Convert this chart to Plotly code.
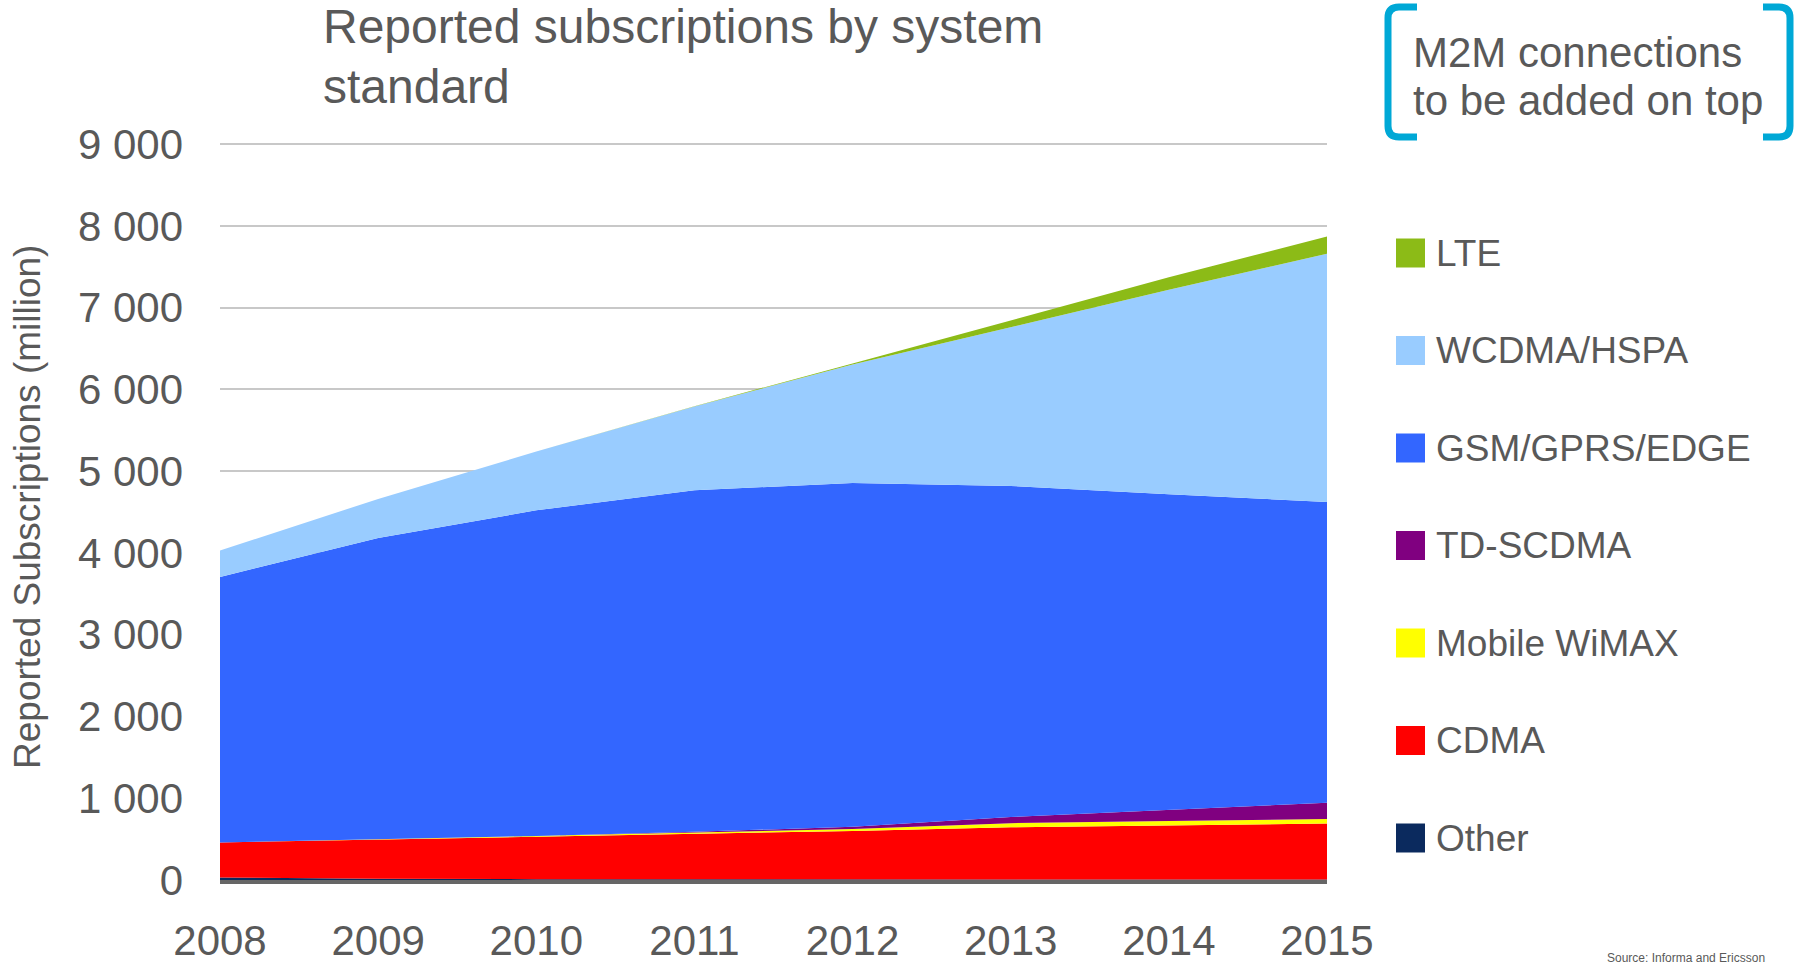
import plotly.graph_objects as go

years = [2008, 2009, 2010, 2011, 2012, 2013, 2014, 2015]

# Subscriptions in millions, stacked bottom -> top
other = [30, 15, 10, 8, 6, 5, 5, 5]
cdma = [430, 480, 520, 557, 594, 640, 665, 685]
wimax = [0, 2, 5, 15, 25, 50, 52, 55]
td_scdma = [0, 0, 3, 10, 25, 75, 133, 200]
gsm = [3247, 3687, 3983, 4176, 4206, 4049, 3863, 3679]
wcdma = [323, 476, 719, 1026, 1447, 1946, 2502, 3035]
lte = [0, 0, 0, 3, 15, 75, 150, 212]

series_names = ["Other", "CDMA", "Mobile WiMAX", "TD-SCDMA", "GSM/GPRS/EDGE", "WCDMA/HSPA", "LTE"]
series_values = [other, cdma, wimax, td_scdma, gsm, wcdma, lte]
series_colors = ["#0B2A5E", "#FF0000", "#FFFF00", "#800080", "#3366FF", "#99CCFF", "#8CBB17"]

y_tickvals = [0, 1000, 2000, 3000, 4000, 5000, 6000, 7000, 8000, 9000]
y_ticktext = ["0", "1 000", "2 000", "3 000", "4 000", "5 000", "6 000", "7 000", "8 000", "9 000"]

title_lines = ["Reported subscriptions by system", "standard"]
note_lines = ["M2M connections", "to be added on top"]
y_title = "Reported Subscriptions (million)"
source_text = "Source: Informa and Ericsson"

W, H = 1801, 968
ML, MR, MT, MB = 220, 474, 140, 88
PW = W - ML - MR
PH = H - MT - MB
FONT = "Arial, Liberation Sans, sans-serif"
TXT = "#595959"


def px(x):
    return (x - ML) / PW


def py(y):
    return (H - MB - y) / PH


fig = go.Figure()
for name, vals, col in zip(series_names, series_values, series_colors):
    fig.add_trace(go.Scatter(
        x=years, y=vals, name=name, mode="lines", stackgroup="one",
        fillcolor=col, line=dict(width=0, color=col), showlegend=False,
    ))

annotations = []
shapes = []

# Title
for line, yc in zip(title_lines, [27, 86]):
    annotations.append(dict(text=line, x=px(321), y=py(yc), xref="paper", yref="paper",
                            xanchor="left", yanchor="middle", showarrow=False,
                            font=dict(size=48, color=TXT, family=FONT)))

# M2M note
for line, yc in zip(note_lines, [52, 101]):
    annotations.append(dict(text=line, x=px(1411), y=py(yc), xref="paper", yref="paper",
                            xanchor="left", yanchor="middle", showarrow=False,
                            font=dict(size=42, color=TXT, family=FONT)))

# Brackets
bc = "#00A8D6"
lpath = (f"M {px(1417)},{py(7)} L {px(1399)},{py(7)} Q {px(1388)},{py(7)} {px(1388)},{py(18)} "
         f"L {px(1388)},{py(126)} Q {px(1388)},{py(137)} {px(1399)},{py(137)} L {px(1417)},{py(137)}")
rpath = (f"M {px(1763)},{py(7)} L {px(1779)},{py(7)} Q {px(1790)},{py(7)} {px(1790)},{py(18)} "
         f"L {px(1790)},{py(126)} Q {px(1790)},{py(137)} {px(1779)},{py(137)} L {px(1763)},{py(137)}")
for p in (lpath, rpath):
    shapes.append(dict(type="path", path=p, xref="paper", yref="paper",
                       line=dict(color=bc, width=7)))

# Legend (top = LTE)
leg_y = [253, 350.5, 448, 545.5, 643, 740.5, 838]
for i, (name, col) in enumerate(zip(series_names[::-1], series_colors[::-1])):
    yc = leg_y[i]
    shapes.append(dict(type="rect", xref="paper", yref="paper",
                       x0=px(1396), x1=px(1425), y0=py(yc + 14.5), y1=py(yc - 14.5),
                       fillcolor=col, line=dict(width=0)))
    annotations.append(dict(text=name, x=px(1434), y=py(yc), xref="paper", yref="paper",
                            xanchor="left", yanchor="middle", showarrow=False,
                            font=dict(size=37, color=TXT, family=FONT)))

# Y title
annotations.append(dict(text=y_title, x=px(27), y=py(507), xref="paper", yref="paper",
                        xanchor="center", yanchor="middle", textangle=-90, showarrow=False,
                        font=dict(size=37, color=TXT, family=FONT)))

# Source
annotations.append(dict(text=source_text, x=px(1605), y=py(958), xref="paper", yref="paper",
                        xanchor="left", yanchor="middle", showarrow=False,
                        font=dict(size=12, color=TXT, family=FONT)))

fig.update_layout(
    width=W, height=H,
    margin=dict(l=ML, r=MR, t=MT, b=MB, pad=0, autoexpand=False),
    paper_bgcolor="white", plot_bgcolor="white",
    showlegend=False,
    annotations=annotations, shapes=shapes,
    font=dict(family=FONT, color=TXT),
    xaxis=dict(range=[2008, 2015], tickvals=years, ticktext=[str(y) for y in years],
               showgrid=False, zeroline=False, showline=True, linecolor="#666666", linewidth=4,
               ticks="", ticklabelstandoff=21, automargin=False,
               tickfont=dict(size=42, color=TXT, family=FONT)),
    yaxis=dict(range=[0, 9050], tickvals=y_tickvals, ticktext=y_ticktext,
               showgrid=True, gridcolor="#C8C8C8", gridwidth=2, zeroline=False, showline=False,
               ticks="", ticklabelstandoff=36, automargin=False,
               tickfont=dict(size=42, color=TXT, family=FONT)),
)

fig.write_html("out.html")
